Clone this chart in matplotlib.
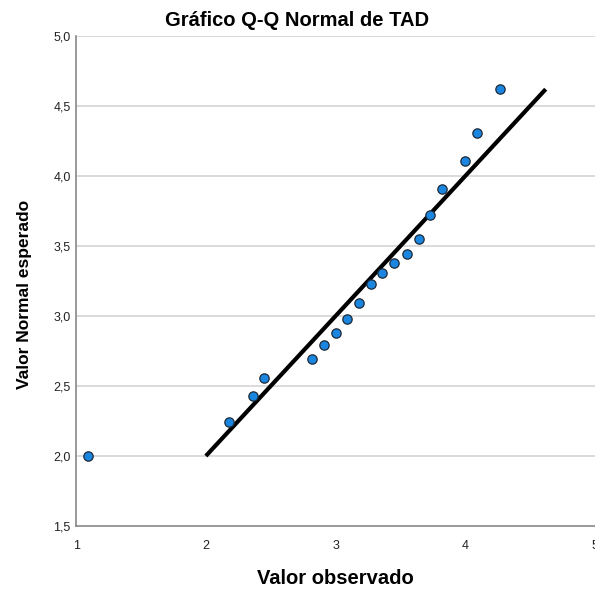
import matplotlib
matplotlib.use("Agg")
import matplotlib.pyplot as plt
from matplotlib.ticker import FuncFormatter

observado = [1.09, 2.18, 2.36, 2.45, 2.82, 2.91, 3.00, 3.09, 3.18, 3.27,
             3.36, 3.45, 3.55, 3.64, 3.73, 3.82, 4.00, 4.09, 4.27]
esperado = [2.00, 2.24, 2.43, 2.56, 2.69, 2.79, 2.88, 2.98, 3.09, 3.23,
            3.31, 3.38, 3.44, 3.55, 3.72, 3.91, 4.11, 4.31, 4.62]
linea_ref = [2.0, 4.62]

x_ticks = [1, 2, 3, 4, 5]
y_ticks = [1.5, 2.0, 2.5, 3.0, 3.5, 4.0, 4.5, 5.0]

plt.rcParams['font.family'] = ['Liberation Sans', 'DejaVu Sans']

fig = plt.figure(figsize=(5.95, 5.9), dpi=100)
ax = fig.add_axes([0.128, 0.1085, 0.872, 0.8305])

for y in y_ticks[1:]:
    ax.axhline(y, color='#d4d4d4', lw=1.2, zorder=0)

ax.plot(linea_ref, linea_ref, color='black', lw=3, solid_capstyle='butt', zorder=2)
ax.scatter(observado, esperado, s=45, color='#1a86e0', edgecolor='#1c2a38',
           linewidth=0.9, zorder=3, clip_on=False)

ax.set_xlim(1, 5)
ax.set_ylim(1.5, 5.0)
ax.set_xticks(x_ticks)
ax.set_yticks(y_ticks)
ax.xaxis.set_major_formatter(FuncFormatter(lambda v, p: f"{v:.0f}"))
ax.yaxis.set_major_formatter(FuncFormatter(lambda v, p: f"{v:.1f}".replace('.', ',')))
ax.tick_params(axis='both', length=0, labelsize=9, colors='#222222')
ax.tick_params(axis='x', pad=10)
ax.tick_params(axis='y', pad=4)

for s in ['top', 'right']:
    ax.spines[s].set_visible(False)
for s in ['left', 'bottom']:
    ax.spines[s].set_color('#888888')
    ax.spines[s].set_linewidth(1.2)

ax.set_xlabel('Valor observado', fontsize=14.5, fontweight='bold', labelpad=12)
ax.set_ylabel('Valor Normal esperado', fontsize=12.5, fontweight='bold')
ax.yaxis.set_label_coords(-0.086, 0.473)
fig.text(0.5, 0.966, 'Gráfico Q-Q Normal de TAD', ha='center', va='center',
         fontsize=14.5, fontweight='bold')

plt.savefig('out.png', dpi=100, facecolor='white')
plt.close()
